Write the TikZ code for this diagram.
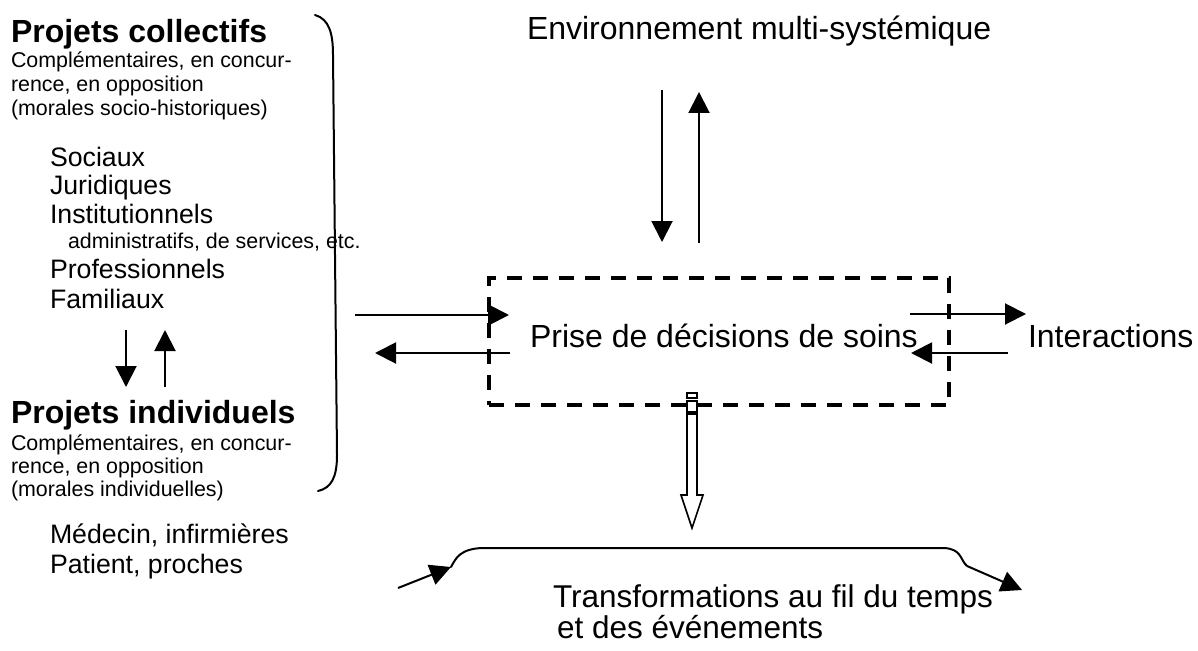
\documentclass[tikz,border=0pt]{standalone}
\usepackage{fontspec}
\setmainfont{Liberation Sans}
\usetikzlibrary{arrows.meta}

\begin{document}
\begin{tikzpicture}[x=1pt,y=-1pt,
  txt/.style={anchor=base west, inner sep=0pt, outer sep=0pt},
  big/.style={txt, font=\fontsize{32}{36}\selectfont},
  head/.style={txt, font=\bfseries\fontsize{32}{36}\selectfont},
  small/.style={txt, font=\fontsize{21.4}{24}\selectfont},
  item/.style={txt, font=\fontsize{26.7}{30}\selectfont},
  arr/.style={line width=2pt, -{Triangle[length=21pt,width=21pt]}},
  curve/.style={line width=2pt, line cap=round},
  hollow/.style={line width=1.6pt, fill=white, line join=miter},
  dashbox/.style={draw, dash pattern=on 15pt off 11pt, line width=3.5pt,
                  minimum width=460pt, minimum height=127pt, inner sep=0pt}
]
\useasboundingbox (0,0) rectangle (1198,650);

% ---- left column: collective projects
\node[head]  (pc)   at (11,43)  {Projets collectifs};
\node[small] (pc1)  at (11,68)  {Complémentaires, en concur-};
\node[small] (pc2)  at (11,92)  {rence, en opposition};
\node[small] (pc3)  at (11,115) {(morales socio-historiques)};
\node[item]  (soc)  at (50,166) {Sociaux};
\node[item]  (jur)  at (50,194) {Juridiques};
\node[item]  (ins)  at (50,223) {Institutionnels};
\node[small] (adm)  at (68,248) {administratifs, de services, etc.};
\node[item]  (pro)  at (50,278) {Professionnels};
\node[item]  (fam)  at (50,308) {Familiaux};

% ---- left column: individual projects
\node[head]  (pi)   at (11,423) {Projets individuels};
\node[small] (pi1)  at (11,450) {Complémentaires, en concur-};
\node[small] (pi2)  at (11,473) {rence, en opposition};
\node[small] (pi3)  at (11,496) {(morales individuelles)};
\node[item]  (med)  at (50,543) {Médecin, infirmières};
\node[item]  (pat)  at (50,573) {Patient, proches};

% exchange between the two levels
\coordinate (famD) at (126,330);
\coordinate (piD)  at (126,387);
\coordinate (piU)  at (165,387);
\coordinate (famU) at (165,330);
\draw[arr] (famD) -- (piD);
\draw[arr] (piU) -- (famU);

% bracket grouping the left column
\draw[curve] (315,15) .. controls (329,19) and (333,33) .. (333,55)
             -- (337,455) .. controls (337,478) and (331,488) .. (318,491);

% ---- centre: decision box
\node[dashbox] (box) at (719,341.5) {};
\node[big] (dec) at (530,347) {Prise de décisions de soins};

% ---- environment above
\node[big] (env) at (527,40) {Environnement multi-systémique};
\coordinate (envD) at (662,90);
\coordinate (boxD) at (662,242);
\coordinate (boxU) at (699,243);
\coordinate (envU) at (699,92);
\draw[arr] (envD) -- (boxD);
\draw[arr] (boxU) -- (envU);

% ---- arrows between the left column and the box
\coordinate (brIn)   at (355,315);
\coordinate (boxIn)  at (509,315);
\coordinate (boxOut) at (510,353);
\coordinate (brOut)  at (375,353);
\draw[arr] (brIn) -- (boxIn);
\draw[arr] (boxOut) -- (brOut);

% ---- interactions on the right
\node[big] (int) at (1028,347) {Interactions};
\coordinate (rOut)  at (910,314);
\coordinate (rTip)  at (1026,314);
\coordinate (rIn)   at (1008,353);
\coordinate (rBack) at (911,353);
\draw[arr] (rOut) -- (rTip);
\draw[arr] (rIn) -- (rBack);

% ---- hollow arrow down to the time line
\draw[hollow] (687,393) rectangle (697,398);
\draw[hollow] (687,401) rectangle (697,412);
\draw[hollow] (687,414) -- (697,414) -- (697,495) -- (703,495) -- (692,528)
              -- (681,495) -- (687,495) -- cycle;

% ---- time line (brace) with incoming and outgoing arrows
\coordinate (tlL) at (451,567);
\coordinate (tlR) at (967,566);
\draw[curve] (tlL) .. controls (456,558) and (460,549) .. (482,548)
             -- (944,548) .. controls (962,549) and (960,560) .. (tlR);
\coordinate (tIn)  at (398,588);
\coordinate (tOut) at (1022,590);
\draw[arr] (tIn) -- (tlL);
\draw[arr] (tlR) -- (tOut);

\node[txt, font=\fontsize{31.5}{35}\selectfont] (tr1) at (553,607) {Transformations au fil du temps};
\node[txt, font=\fontsize{31.5}{35}\selectfont] (tr2) at (557,638) {et des événements};
\end{tikzpicture}
\end{document}
